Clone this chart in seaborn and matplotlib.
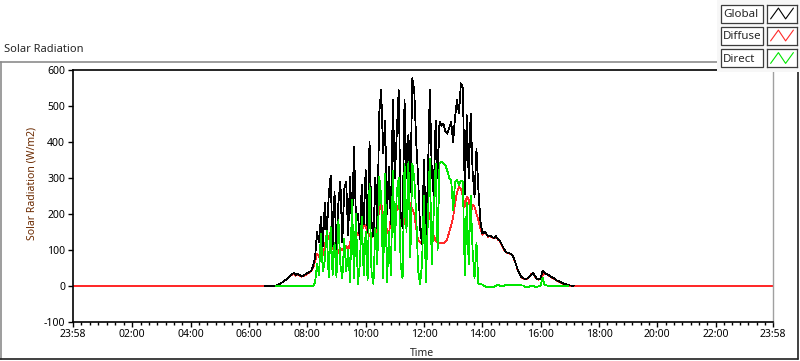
import numpy as np
import pandas as pd
import matplotlib
matplotlib.use("Agg")
import matplotlib.pyplot as plt
from matplotlib.lines import Line2D
from matplotlib.patches import Rectangle
import seaborn as sns

# ---- data (4 minute samples 06:32 .. 17:20) ----
day_start_min = 6 * 60 + 32
day_step_min = 4
nan = np.nan

global_vals = [
    0, 0, 0, 0, 0, 0, 1,                                                        # 06:32-06:56
    3, 6, 9, 12, 17, 22, 26, 33, 35, 30, 33, 30, 27, 28, 32,                    # 07
    35, 38, 42, 55, 80, 150, 120, 191, 110, 230, 140, 250, 307, 110, 260,       # 08
    100, 230, 289, 120, 270, 290, 140, 302, 150, 386, 190, 200, 130, 280, 170,  # 09
    321, 150, 400, 180, 137, 300, 160, 480, 544, 368, 460, 200, 330, 170, 516,  # 10
    300, 420, 544, 200, 160, 516, 300, 420, 260, 577, 544, 400, 300, 160, 117,  # 11
    350, 130, 300, 544, 320, 250, 460, 300, 456, 445, 450, 430, 423, 440, 455,  # 12
    400, 470, 516, 480, 563, 550, 256, 474, 300, 479, 320, 247, 380, 265, 182,  # 13
    145, 150, 145, 138, 140, 135, 133, 138, 130, 126, 115, 104, 94, 92, 90,     # 14
    88, 80, 65, 48, 35, 25, 21, 19, 20, 24, 30, 36, 28, 20, 18,                 # 15
    19, 41, 36, 33, 30, 26, 23, 20, 16, 13, 11, 8, 5, 4, 2,                     # 16
    1, 0, 0, nan, nan, nan,                                                     # 17:00-17:20
]

diffuse_vals = [
    0, 0, 0, 0, 0, 0, 0,
    3, 6, 9, 12, 17, 22, 26, 30, 32, 28, 30, 28, 25, 27, 30,
    33, 36, 40, 50, 68, 90, 80, 95, 85, 110, 145, 130, 150, 110, 90,
    80, 95, 105, 100, 107, 110, 100, 120, 135, 130, 154, 140, 160, 150, 173,
    165, 150, 140, 135, 145, 138, 175, 210, 228, 200, 190, 150, 145, 190, 224,
    220, 210, 224, 190, 180, 170, 210, 238, 225, 215, 200, 160, 126, 120, 117,
    150, 175, 210, 195, 160, 140, 125, 121, 118, 120, 118, 122, 130, 150, 168,
    191, 230, 260, 275, 270, 250, 220, 247, 240, 200, 225, 219, 200, 182, 160,
    142, 148, 143, 136, 139, 134, 131, 136, 129, 124, 114, 103, 93, 91, 89,
    87, 79, 64, 47, 34, 24, 20, 18, 19, 23, 32, 34, 27, 19, 17,
    18, 30, 34, 32, 29, 25, 22, 19, 15, 12, 10, 7, 4, 3, 1,
    0, 0, 0, 0, 0, 0,
]

direct_vals = [
    nan, nan, nan, nan, nan, nan, 0,
    0, 0, 0, 0, 0, 0, 0, 0, 0, 0, 0, 0, 0, 0, 0,
    0, 0, 0, 0, 8, 60, 30, 145, 40, 70, 154, 24, 163, 30, 120,
    24, 182, 60, 20, 130, 40, 100, 10, 238, 20, 200, 5, 60, 191, 30,
    150, 15, 284, 40, 5, 160, 60, 302, 250, 20, 310, 10, 150, 30, 320,
    100, 260, 300, 60, 20, 340, 150, 344, 80, 340, 300, 200, 43, 5, 60,
    250, 10, 180, 354, 60, 200, 340, 100, 340, 345, 340, 335, 320, 300, 293,
    210, 290, 295, 280, 293, 290, 30, 230, 60, 250, 100, 20, 120, 5, 5,
    3, 0, -3, -3, -3, -2, -3, 0, 3, 0, 0, 0, 2, 2, 2,
    2, 2, 2, 2, 2, 1, 1, -3, -3, -3, 0, 0, -3, -3, -2,
    0, 22, 3, 1, 0, 0, 0, 0, 0, 0, 0, 0, 0, 0, 0,
    nan, nan, nan, nan, nan, nan,
]

# night: diffuse channel keeps logging 0 from 23:58 to 23:58
night_start_h = -2 / 60
night_end_h = 24 - 2 / 60

series_names = ["Global", "Diffuse", "Direct"]
series_colors = ["#000000", "#ff2a2a", "#00e600"]

x_tick_labels = ["23:58", "02:00", "04:00", "06:00", "08:00", "10:00", "12:00",
                 "14:00", "16:00", "18:00", "20:00", "22:00", "23:58"]
y_ticks = [-100, 0, 100, 200, 300, 400, 500, 600]

# ---- build frame ----
n = len(global_vals)
t_day = (day_start_min + day_step_min * np.arange(n)) / 60.0

df_global = pd.DataFrame({"t": t_day, "v": global_vals}).dropna()
df_direct = pd.DataFrame({"t": t_day, "v": direct_vals}).dropna()
df_diffuse = pd.DataFrame({
    "t": np.concatenate([[night_start_h], t_day, [night_end_h]]),
    "v": np.concatenate([[0], diffuse_vals, [0]]),
})

# ---- figure ----
sns.set_style("white")
plt.rcParams["font.family"] = ["Noto Sans", "DejaVu Sans"]

W, H = 800, 361
fig = plt.figure(figsize=(W / 100, H / 100), dpi=100)


def fx(x):
    return x / W


def fy(y):
    return 1 - y / H


ax = fig.add_axes([fx(73), fy(321.7), fx(700), (321.7 - 70) / H])

lw = 0.55
sns.lineplot(data=df_diffuse, x="t", y="v", ax=ax, color=series_colors[1],
             lw=lw, estimator=None, zorder=2, antialiased=False)
sns.lineplot(data=df_global, x="t", y="v", ax=ax, color=series_colors[0],
             lw=lw, estimator=None, zorder=3, antialiased=False)
sns.lineplot(data=df_direct, x="t", y="v", ax=ax, color=series_colors[2],
             lw=lw, estimator=None, zorder=4, antialiased=False)

ax.set_xlim(night_start_h, night_end_h)
ax.set_ylim(-100, 600)
major = [night_start_h] + list(range(2, 24, 2)) + [night_end_h]
ax.set_xticks(major)
ax.set_xticklabels(x_tick_labels)
minor = []
for a, b in zip(major[:-1], major[1:]):
    minor += list(np.linspace(a, b, 8)[1:-1])
ax.set_xticks(minor, minor=True)
ax.set_yticks(y_ticks)
ax.set_yticklabels([str(v) for v in y_ticks])
ax.set_xlabel("")
ax.set_ylabel("")

ax.tick_params(axis="both", which="major", direction="out", length=3.6, width=1,
               labelsize=7.5, pad=2, color="black", labelcolor="black")
ax.tick_params(axis="x", which="minor", direction="out", length=2.2, width=1,
               color="black")
ax.tick_params(axis="x", which="both", bottom=True)
ax.tick_params(axis="y", which="both", left=True)

for side in ["left", "bottom", "top"]:
    ax.spines[side].set_color("black")
    ax.spines[side].set_linewidth(1.2)
ax.spines["right"].set_color("#a0a0a0")
ax.spines["right"].set_linewidth(1)
ax.grid(False)

# ---- outer panel frame ----
fig.add_artist(Line2D([fx(0), fx(717)], [fy(61.5), fy(61.5)], color="#8c8c8c", lw=1.2))
fig.add_artist(Line2D([fx(0.6), fx(0.6)], [fy(61.5), fy(359)], color="#8c8c8c", lw=1.2))
fig.add_artist(Line2D([fx(0), fx(798)], [fy(359), fy(359)], color="#202020", lw=1.2))
fig.add_artist(Line2D([fx(797.5), fx(797.5)], [fy(72), fy(359)], color="#202020", lw=1.2))

fig.text(fx(4), fy(50), "Solar Radiation", fontsize=8, va="center", ha="left")
fig.text(fx(32), fy(183), "Solar Radiation (W/m2)", fontsize=7.5, rotation=90,
         va="center", ha="center", color="#6b2a00")
fig.text(fx(422), fy(354), "Time", fontsize=7.5, va="center", ha="center")

# ---- legend (LabVIEW style plot legend) ----
fig.add_artist(Rectangle((fx(717), fy(72)), fx(83), 72 / H, facecolor="#f7f7f7",
                         edgecolor="none", zorder=5))
row_tops = [4.5, 26.5, 49]
for name, col, top in zip(series_names, series_colors, row_tops):
    fig.add_artist(Rectangle((fx(721), fy(top + 18)), fx(42), 18 / H,
                             facecolor="white", edgecolor="#3c3c3c", lw=0.9, zorder=6))
    fig.text(fx(723), fy(top + 10), name, fontsize=8.3, va="center", ha="left", zorder=7)
    lax = fig.add_axes([fx(767), fy(top + 18), fx(30), 18 / H], zorder=7)
    lax.plot([0.12, 0.38, 0.62, 0.88], [0.2, 0.8, 0.2, 0.8], color=col, lw=0.8)
    lax.set_xlim(0, 1)
    lax.set_ylim(0, 1)
    lax.set_xticks([])
    lax.set_yticks([])
    for s in lax.spines.values():
        s.set_color("#3c3c3c")
        s.set_linewidth(0.9)

fig.savefig("out.png", dpi=100)
